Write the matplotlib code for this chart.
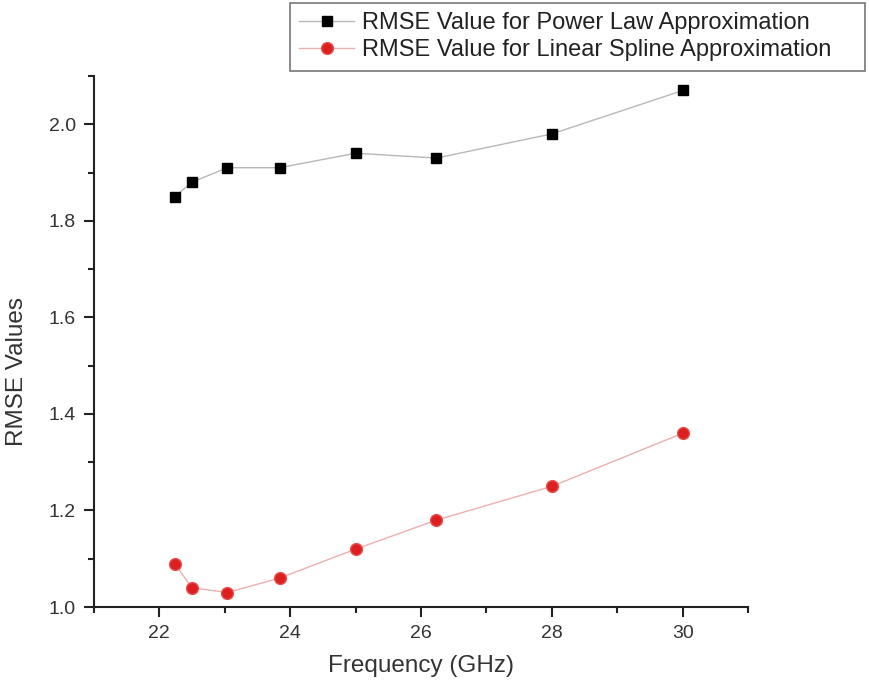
import matplotlib
matplotlib.use("Agg")
import matplotlib.pyplot as plt
from matplotlib.ticker import MultipleLocator, FormatStrFormatter

plt.rcParams['font.family'] = ['Liberation Sans', 'DejaVu Sans']

freq = [22.235, 22.5, 23.04, 23.84, 25.0, 26.235, 28.0, 30.0]
rmse_power = [1.85, 1.88, 1.91, 1.91, 1.94, 1.93, 1.98, 2.07]
rmse_spline = [1.09, 1.04, 1.03, 1.06, 1.12, 1.18, 1.25, 1.36]
labels = ["RMSE Value for Power Law Approximation",
          "RMSE Value for Linear Spline Approximation"]

fig = plt.figure(figsize=(8.69, 6.87), dpi=100)
ax = fig.add_axes([0.108, 0.1164, 0.753, 0.773])

l1, = ax.plot(freq, rmse_power, color='#b8b8b8', lw=1.0, marker='s', ms=7,
              mfc='black', mec='black', label=labels[0])
l2, = ax.plot(freq, rmse_spline, color='#ebb0b0', lw=1.0, marker='o', ms=8.5,
              mfc='#dd1f1f', mec='#e65050', mew=1.0, label=labels[1])

ax.set_xlim(21, 31)
ax.set_ylim(1.0, 2.1)
ax.xaxis.set_major_locator(MultipleLocator(2))
ax.xaxis.set_minor_locator(MultipleLocator(1))
ax.yaxis.set_major_locator(MultipleLocator(0.2))
ax.yaxis.set_minor_locator(MultipleLocator(0.1))
ax.xaxis.set_major_formatter(FormatStrFormatter('%d'))
ax.yaxis.set_major_formatter(FormatStrFormatter('%.1f'))

for s in ['top', 'right']:
    ax.spines[s].set_visible(False)
for s in ['left', 'bottom']:
    ax.spines[s].set_linewidth(1.5)
    ax.spines[s].set_color('#222222')

ax.tick_params(which='major', direction='out', length=7, width=1.5,
               labelsize=14, colors='#222222', labelcolor='#333333', pad=6)
ax.tick_params(which='minor', direction='out', length=4, width=1.5, colors='#222222')

ax.set_xlabel("Frequency (GHz)", fontsize=17.5, color='#333333', labelpad=9)
ax.set_ylabel("RMSE Values", fontsize=17.5, color='#333333')
ax.yaxis.set_label_coords(-0.101, 0.443)

leg = fig.legend(handles=[l1, l2], loc='upper left',
                 bbox_to_anchor=(290/869, 1 - 70/687, (865 - 290)/869, 67/687),
                 mode='expand', fontsize=17,
                 frameon=True, fancybox=False, edgecolor='#555555',
                 handlelength=2.3, handletextpad=0.34, borderpad=0.4,
                 labelspacing=0.2, borderaxespad=0)
leg.get_frame().set_linewidth(1.2)
for t in leg.get_texts():
    t.set_color('#222222')

fig.savefig("out.png", dpi=100)
